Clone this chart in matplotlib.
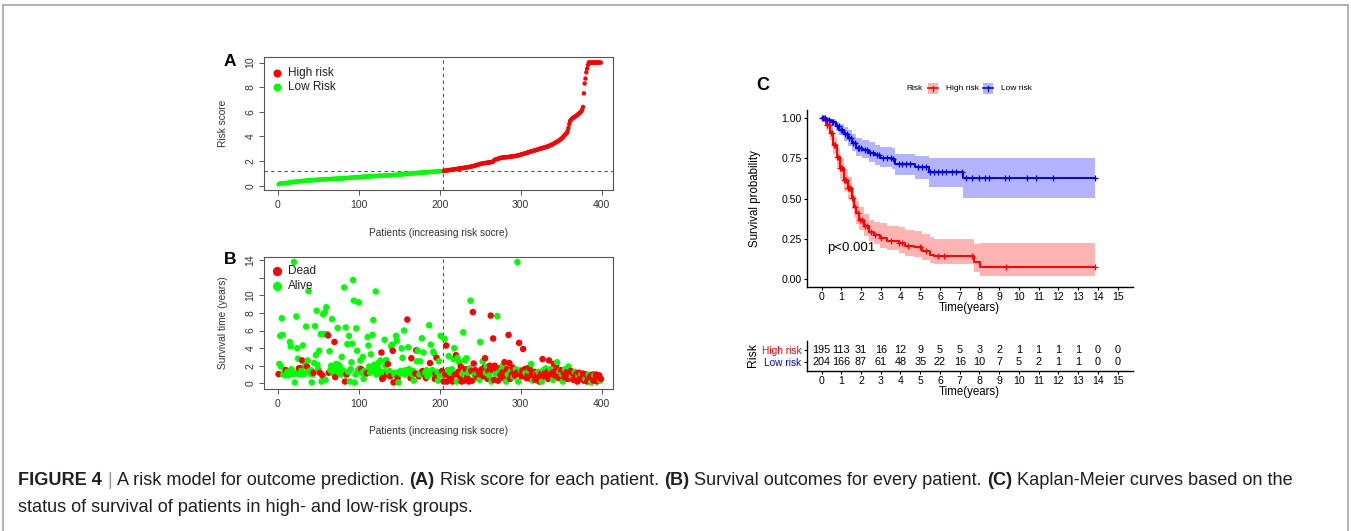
import matplotlib
matplotlib.use("Agg")
import matplotlib.pyplot as plt
import numpy as np
from matplotlib.patches import Rectangle
from matplotlib.lines import Line2D

plt.rcParams["font.family"] = ["Liberation Sans", "DejaVu Sans"]

W, H = 1351, 531

# ---------------- data ----------------
n_low = 204
cutoff = 1.2

risk_score = [
    0.12, 0.15, 0.17, 0.18, 0.19, 0.20, 0.20, 0.21, 0.21, 0.22,
    0.22, 0.23, 0.24, 0.25, 0.26, 0.27, 0.28, 0.29, 0.30, 0.31,
    0.32, 0.32, 0.33, 0.34, 0.35, 0.35, 0.36, 0.36, 0.37, 0.38,
    0.38, 0.39, 0.40, 0.40, 0.41, 0.41, 0.42, 0.42, 0.43, 0.43,
    0.44, 0.44, 0.45, 0.45, 0.46, 0.46, 0.47, 0.47, 0.48, 0.48,
    0.49, 0.49, 0.50, 0.50, 0.51, 0.51, 0.52, 0.52, 0.52, 0.53,
    0.53, 0.53, 0.54, 0.54, 0.54, 0.55, 0.55, 0.55, 0.56, 0.56,
    0.56, 0.57, 0.57, 0.57, 0.58, 0.58, 0.58, 0.59, 0.59, 0.60,
    0.60, 0.61, 0.61, 0.62, 0.62, 0.63, 0.63, 0.64, 0.64, 0.65,
    0.65, 0.66, 0.66, 0.67, 0.67, 0.68, 0.68, 0.69, 0.69, 0.70,
    0.70, 0.71, 0.71, 0.72, 0.72, 0.73, 0.73, 0.74, 0.74, 0.75,
    0.75, 0.75, 0.76, 0.76, 0.77, 0.77, 0.77, 0.78, 0.78, 0.79,
    0.79, 0.79, 0.80, 0.80, 0.80, 0.81, 0.81, 0.81, 0.82, 0.82,
    0.82, 0.83, 0.83, 0.83, 0.84, 0.84, 0.84, 0.85, 0.85, 0.86,
    0.86, 0.86, 0.87, 0.87, 0.88, 0.88, 0.89, 0.89, 0.90, 0.90,
    0.91, 0.91, 0.92, 0.92, 0.93, 0.94, 0.94, 0.95, 0.95, 0.96,
    0.97, 0.97, 0.98, 0.99, 0.99, 1.00, 1.00, 1.01, 1.02, 1.02,
    1.03, 1.03, 1.04, 1.04, 1.05, 1.05, 1.06, 1.06, 1.07, 1.07,
    1.08, 1.08, 1.09, 1.09, 1.10, 1.10, 1.11, 1.11, 1.12, 1.12,
    1.13, 1.13, 1.14, 1.14, 1.15, 1.15, 1.16, 1.16, 1.17, 1.17,
    1.18, 1.18, 1.19, 1.19,
    1.20, 1.21, 1.22, 1.23, 1.24, 1.25, 1.26, 1.27, 1.28, 1.29,
    1.30, 1.31, 1.32, 1.33, 1.34, 1.35, 1.36, 1.37, 1.38, 1.39,
    1.40, 1.41, 1.42, 1.43, 1.44, 1.45, 1.46, 1.47, 1.48, 1.49,
    1.50, 1.51, 1.53, 1.54, 1.56, 1.57, 1.59, 1.60, 1.62, 1.64,
    1.66, 1.68, 1.70, 1.72, 1.74, 1.76, 1.78, 1.80, 1.81, 1.82,
    1.83, 1.84, 1.85, 1.86, 1.87, 1.88, 1.89, 1.90, 1.91, 1.92,
    1.93, 1.95, 2.05, 2.10, 2.12, 2.15, 2.17, 2.19, 2.21, 2.23,
    2.25, 2.27, 2.28, 2.29, 2.30, 2.30, 2.31, 2.31, 2.32, 2.32,
    2.33, 2.34, 2.35, 2.36, 2.37, 2.38, 2.39, 2.40, 2.41, 2.42,
    2.43, 2.44, 2.46, 2.48, 2.50, 2.52, 2.54, 2.56, 2.58, 2.60,
    2.62, 2.64, 2.66, 2.68, 2.70, 2.72, 2.74, 2.76, 2.78, 2.80,
    2.82, 2.84, 2.86, 2.88, 2.90, 2.92, 2.94, 2.96, 2.98, 3.00,
    3.02, 3.04, 3.06, 3.08, 3.10, 3.12, 3.14, 3.16, 3.18, 3.20,
    3.23, 3.26, 3.29, 3.32, 3.35, 3.38, 3.42, 3.46, 3.50, 3.54,
    3.58, 3.62, 3.66, 3.70, 3.75, 3.80, 3.86, 3.92, 4.00, 4.08,
    4.16, 4.22, 4.28, 4.45, 4.70, 5.00, 5.25, 5.35, 5.42, 5.48,
    5.52, 5.56, 5.60, 5.65, 5.70, 5.75, 5.80, 5.86, 5.92, 5.98,
    6.05, 6.20, 6.40, 7.50, 8.30, 8.70, 9.20, 9.50, 9.80, 10.0,
    10.0, 10.0, 10.0, 10.0, 10.0, 10.0, 10.0, 10.0, 10.0, 10.0,
    10.0, 10.0, 10.0, 10.0, 10.0,
]

surv_time = [
    1.05, 2.2, 5.4, 1.9, 7.4, 5.5, 1.0, 1.2, 0.9, 1.5,
    1.0, 1.3, 0.9, 1.1, 4.7, 4.2, 1.6, 1.0, 1.2, 13.8,
    0.1, 1.1, 7.6, 4.0, 2.8, 1.7, 1.0, 1.7, 1.4, 2.6,
    4.3, 1.0, 1.2, 2.0, 6.45, 1.9, 2.6, 10.5, 1.4, 1.1,
    1.5, 0.1, 1.0, 1.2, 2.3, 6.5, 3.2, 8.25, 2.1, 1.6,
    3.7, 1.2, 5.6, 0.2, 0.9, 7.85, 5.6, 8.07, 0.4, 8.65,
    5.6, 5.45, 1.2, 3.65, 1.5, 2.0, 7.3, 1.6, 1.1, 4.7,
    0.7, 2.2, 1.4, 6.3, 2.1, 1.2, 1.9, 1.0, 3.0, 1.5,
    1.3, 10.9, 0.2, 6.35, 1.0, 4.45, 1.3, 5.4, 0.2, 1.6,
    2.4, 4.5, 11.75, 9.4, 0.1, 1.0, 6.25, 3.7, 1.5, 9.2,
    1.7, 2.6, 1.6, 1.2, 3.0, 0.5, 1.4, 1.0, 1.3, 1.15,
    5.25, 4.3, 1.9, 1.2, 3.3, 1.6, 5.5, 7.2, 2.1, 1.3,
    10.45, 1.0, 1.8, 2.3, 1.5, 1.1, 2.6, 3.5, 0.5, 0.6,
    1.3, 4.95, 2.0, 2.65, 1.0, 2.2, 1.2, 1.4, 0.8, 4.2,
    4.4, 3.7, 0.1, 1.0, 1.2, 5.4, 4.85, 0.6, 0.1, 1.3,
    1.1, 1.4, 3.98, 2.9, 1.2, 6.0, 1.0, 1.5, 1.3, 7.25,
    4.1, 1.6, 1.2, 0.6, 2.85, 1.0, 1.4, 0.3, 1.2, 1.1,
    3.75, 2.5, 3.7, 0.8, 1.0, 2.5, 1.3, 5.12, 1.4, 3.5,
    1.0, 1.2, 0.6, 1.5, 0.8, 1.3, 6.6, 2.3, 4.4, 1.1,
    1.5, 3.6, 3.4, 0.5, 1.1, 2.9, 1.3, 0.3, 2.5, 1.0,
    5.4, 1.2, 1.4, 0.9,
    0.2, 5.05, 1.0, 4.3, 0.2, 1.5, 3.1, 0.8, 1.2, 0.5,
    1.6, 0.2, 2.75, 4.0, 1.0, 3.2, 0.2, 2.9, 1.3, 2.4,
    0.8, 1.9, 0.2, 1.1, 5.8, 0.3, 2.6, 1.6, 2.85, 0.7,
    1.2, 0.2, 1.7, 9.4, 1.4, 0.3, 8.1, 2.25, 1.0, 1.5,
    0.9, 1.1, 0.6, 1.3, 0.4, 4.7, 1.0, 1.6, 2.5, 0.8,
    1.8, 2.85, 1.2, 1.9, 0.5, 1.4, 0.9, 2.0, 7.7, 0.2,
    1.5, 5.1, 0.4, 2.0, 1.1, 1.7, 7.65, 0.3, 1.3, 1.7,
    0.9, 1.5, 1.2, 2.0, 0.6, 2.4, 1.1, 0.2, 1.6, 1.0,
    5.5, 2.3, 0.5, 1.4, 1.0, 1.8, 0.7, 1.3, 0.9, 1.6,
    1.2, 13.8, 0.2, 4.6, 1.1, 1.5, 0.8, 1.4, 3.9, 1.0,
    1.6, 1.2, 0.6, 1.7, 1.0, 1.4, 1.7, 0.5, 2.2, 1.2,
    0.3, 0.9, 1.3, 0.4, 1.1, 1.0, 0.7, 1.3, 0.2, 0.6,
    1.1, 0.2, 2.75, 1.5, 0.8, 1.2, 1.7, 0.9, 1.3, 0.5,
    2.6, 1.0, 1.6, 0.7, 1.2, 0.4, 2.2, 0.9, 1.4, 2.0,
    2.4, 1.1, 0.6, 1.3, 0.8, 1.5, 1.0, 0.2, 1.2, 0.7,
    1.6, 0.9, 1.3, 0.5, 1.9, 1.1, 0.6, 1.4, 0.8, 1.2,
    0.4, 1.0, 1.3, 0.7, 1.1, 0.2, 0.9, 1.2, 0.5, 0.8,
    1.0, 0.6, 1.1, 0.3, 0.9, 0.5, 1.0, 0.2, 0.7, 1.0,
    0.4, 0.8, 0.1, 0.6, 1.0, 0.3, 0.9, 0.5, 1.0, 0.2,
    0.8, 0.6, 0.9, 0.3, 0.5,
]

# 1 = dead, 0 = alive
status = [
    1, 0, 0, 0, 0, 0, 0, 0, 0, 1,
    0, 0, 0, 0, 0, 0, 0, 0, 0, 0,
    0, 0, 0, 0, 0, 1, 0, 1, 0, 1,
    0, 0, 0, 0, 0, 1, 0, 0, 0, 0,
    0, 0, 0, 1, 0, 0, 0, 0, 0, 0,
    0, 1, 0, 0, 1, 0, 0, 0, 0, 0,
    0, 1, 1, 0, 0, 0, 0, 0, 0, 1,
    1, 0, 0, 0, 0, 0, 0, 0, 0, 0,
    0, 0, 1, 0, 1, 0, 0, 0, 0, 0,
    0, 0, 0, 0, 0, 0, 0, 0, 0, 0,
    0, 0, 1, 0, 0, 0, 0, 0, 0, 1,
    0, 0, 0, 0, 0, 0, 0, 0, 0, 0,
    0, 0, 0, 0, 0, 0, 0, 1, 1, 1,
    0, 0, 0, 0, 1, 1, 0, 0, 1, 0,
    0, 1, 1, 0, 0, 0, 0, 1, 0, 0,
    0, 0, 0, 0, 0, 0, 0, 0, 0, 1,
    0, 0, 0, 1, 1, 0, 0, 0, 0, 1,
    1, 0, 0, 1, 0, 0, 0, 0, 1, 0,
    1, 0, 1, 0, 0, 0, 0, 1, 0, 0,
    0, 0, 0, 1, 1, 1, 0, 0, 0, 0,
    0, 0, 1, 0,
    1, 0, 1, 1, 1, 0, 0, 1, 0, 1,
    0, 1, 0, 0, 1, 1, 0, 0, 1, 0,
    1, 1, 1, 0, 0, 1, 0, 1, 0, 1,
    0, 1, 0, 0, 1, 1, 1, 1, 0, 1,
    1, 0, 1, 1, 0, 0, 1, 1, 0, 1,
    1, 1, 0, 0, 1, 1, 0, 1, 1, 0,
    1, 1, 1, 1, 0, 1, 0, 1, 0, 1,
    1, 0, 1, 0, 1, 1, 1, 0, 1, 0,
    1, 1, 1, 0, 1, 1, 0, 1, 1, 0,
    1, 0, 0, 1, 1, 0, 1, 1, 1, 1,
    1, 0, 1, 1, 1, 0, 1, 1, 0, 1,
    0, 1, 1, 1, 0, 1, 1, 0, 1, 1,
    1, 0, 1, 0, 1, 1, 0, 1, 1, 1,
    1, 1, 0, 1, 1, 0, 1, 1, 1, 1,
    0, 1, 1, 0, 1, 1, 0, 0, 1, 1,
    0, 1, 1, 1, 0, 1, 1, 1, 0, 1,
    1, 1, 0, 1, 1, 1, 0, 1, 1, 1,
    0, 1, 1, 1, 1, 0, 1, 1, 1, 0,
    1, 1, 0, 1, 1, 1, 0, 1, 1, 1,
    1, 1, 1, 0, 1,
]

# Kaplan-Meier, high risk group
hi_t = [0, 0.25, 0.42, 0.59, 0.76, 0.93, 1.13, 1.33, 1.52, 1.63, 1.77, 1.89,
        2.14, 2.39, 2.64, 2.98, 3.32, 3.9, 4.25, 4.67, 5.1, 5.5, 5.7, 7.7, 8.05, 13.85]
hi_s = [1.0, 0.958, 0.907, 0.834, 0.758, 0.689, 0.616, 0.564, 0.502, 0.45, 0.41, 0.37,
        0.33, 0.295, 0.275, 0.254, 0.237, 0.225, 0.204, 0.198, 0.173, 0.152, 0.145, 0.104, 0.073, 0.073]
hi_up = [1.0, 0.985, 0.95, 0.885, 0.815, 0.75, 0.685, 0.635, 0.575, 0.525, 0.485, 0.445,
         0.405, 0.37, 0.355, 0.35, 0.33, 0.325, 0.305, 0.30, 0.28, 0.26, 0.25, 0.215, 0.222, 0.222]
hi_lo = [1.0, 0.93, 0.865, 0.78, 0.70, 0.625, 0.55, 0.50, 0.435, 0.385, 0.345, 0.305,
         0.27, 0.235, 0.215, 0.195, 0.18, 0.16, 0.14, 0.135, 0.115, 0.10, 0.092, 0.045, 0.02, 0.02]
hi_cens = [0.15, 0.3, 0.38, 0.5, 0.55, 0.65, 0.7, 0.8, 0.85, 0.95, 1.0, 1.05, 1.15, 1.2,
           1.25, 1.35, 1.4, 1.45, 1.55, 1.6, 1.7, 1.85, 1.95, 2.05, 2.2, 2.3, 2.5, 2.7,
           3.0, 3.5, 3.9, 4.1, 4.4, 5.0, 5.3, 5.9, 6.2, 7.6, 9.35, 13.85]

# Kaplan-Meier, low risk group
lo_t = [0, 0.25, 0.46, 0.71, 0.91, 1.13, 1.33, 1.55, 1.77, 2.05, 2.39, 2.73, 2.98,
        3.57, 3.74, 4.75, 5.42, 7.16, 13.85]
lo_s = [1.0, 0.99, 0.975, 0.95, 0.93, 0.90, 0.875, 0.845, 0.818, 0.804, 0.787, 0.77,
        0.756, 0.746, 0.715, 0.698, 0.669, 0.627, 0.627]
lo_up = [1.0, 1.0, 0.995, 0.98, 0.965, 0.945, 0.925, 0.90, 0.875, 0.865, 0.85, 0.835,
         0.82, 0.815, 0.78, 0.765, 0.755, 0.755, 0.755]
lo_lo = [1.0, 0.975, 0.955, 0.92, 0.895, 0.86, 0.83, 0.795, 0.765, 0.75, 0.73, 0.71,
         0.695, 0.685, 0.645, 0.625, 0.575, 0.505, 0.505]
lo_cens = [0.05, 0.1, 0.2, 0.3, 0.4, 0.55, 0.6, 0.8, 0.9, 1.0, 1.05, 1.2, 1.3, 1.4, 1.5,
           1.6, 1.7, 1.85, 1.9, 2.0, 2.2, 2.3, 2.45, 2.6, 2.8, 2.9, 3.1, 3.3, 3.5, 3.6,
           3.9, 4.1, 4.3, 4.5, 4.9, 5.1, 5.3, 5.5, 5.7, 5.9, 6.1, 6.3, 6.6, 6.8, 7.1,
           7.3, 7.6, 8.0, 8.3, 8.5, 9.3, 9.5, 10.4, 10.87, 11.7, 13.85]

table_times = list(range(16))
at_risk_high = [195, 113, 31, 16, 12, 9, 5, 5, 3, 2, 1, 1, 1, 1, 0, 0]
at_risk_low = [204, 166, 87, 61, 48, 35, 22, 16, 10, 7, 5, 2, 1, 1, 0, 0]

RED, GREEN, BLUE = "#ff0000", "#00ff00", "#0000ff"


def fx(x):
    return x / W


def fy(y):
    return 1 - y / H


def box(l, t, r, b):
    return [fx(l), fy(b), (r - l) / W, (b - t) / H]


fig = plt.figure(figsize=(W / 100, H / 100), dpi=100)

# outer frame
fr = dict(color="#a6a6a6", lw=1.2, transform=fig.transFigure)
fig.add_artist(Line2D([fx(3), fx(3)], [fy(4.5), 0], **fr))
fig.add_artist(Line2D([fx(3), fx(1348)], [fy(4.5), fy(4.5)], **fr))
fig.add_artist(Line2D([fx(1348), fx(1348)], [fy(4.5), 0], **fr))


def r_style(ax):
    for s in ax.spines.values():
        s.set_color("#555555")
        s.set_linewidth(0.8)
    ax.tick_params(axis="both", direction="out", length=3.5, width=0.7,
                   color="#555555", labelsize=7.5, labelcolor="#333333")
    ax.tick_params(axis="x", pad=3.5)
    ax.tick_params(axis="y", pad=2.5)
    for lab in ax.get_yticklabels():
        lab.set_rotation(90)
        lab.set_va("center")


pat = np.arange(1, len(risk_score) + 1)
rs = np.array(risk_score)
grp_high = pat > n_low

# ---------- panel A ----------
axA = fig.add_axes(box(264, 57, 613, 190))
axA.scatter(pat, rs, s=10, c=np.where(grp_high, RED, GREEN), lw=0, zorder=3)
axA.axhline(cutoff, ls=(0, (3, 3)), color="#555555", lw=0.8)
axA.axvline(n_low + 0.5, ls=(0, (3, 3)), color="#555555", lw=0.8)
axA.set_xlim(-17, 414)
axA.set_ylim(-0.35, 10.45)
axA.set_xticks([0, 100, 200, 300, 400])
axA.set_yticks([0, 2, 4, 6, 8, 10])
r_style(axA)
axA.plot([0.036], [0.882], "o", color=RED, ms=4.8, transform=axA.transAxes)
axA.plot([0.036], [0.772], "o", color=GREEN, ms=4.8, transform=axA.transAxes)
axA.text(0.068, 0.882, "High risk", transform=axA.transAxes, va="center", fontsize=8.5, color="#222")
axA.text(0.068, 0.772, "Low Risk", transform=axA.transAxes, va="center", fontsize=8.5, color="#222")
fig.text(fx(438), fy(232.5), "Patients (increasing risk socre)", ha="center", va="center",
         fontsize=7.3, color="#333")
fig.text(fx(223), fy(123.5), "Risk score", ha="center", va="center", rotation=90,
         fontsize=7.3, color="#333")
fig.text(fx(230), fy(62), "A", ha="center", va="center", fontsize=12.5, fontweight="bold")

# ---------- panel B ----------
st = np.array(status)
axB = fig.add_axes(box(264, 256.7, 613, 389))
axB.scatter(pat, surv_time, s=22, c=np.where(st == 1, RED, GREEN), lw=0, zorder=3)
axB.axvline(n_low + 0.5, ls=(0, (3, 3)), color="#555555", lw=0.8)
axB.set_xlim(-17, 414)
axB.set_ylim(-0.65, 14.4)
axB.set_xticks([0, 100, 200, 300, 400])
axB.set_yticks([0, 2, 4, 6, 8, 10, 12, 14])
axB.set_yticklabels(["0", "2", "4", "6", "8", "10", "", "14"])
r_style(axB)
axB.plot([0.036], [0.892], "o", color=RED, ms=5.6, transform=axB.transAxes)
axB.plot([0.036], [0.781], "o", color=GREEN, ms=5.6, transform=axB.transAxes)
axB.text(0.068, 0.892, "Dead", transform=axB.transAxes, va="center", fontsize=8.5, color="#222")
axB.text(0.068, 0.781, "Alive", transform=axB.transAxes, va="center", fontsize=8.5, color="#222")
fig.text(fx(438), fy(431.5), "Patients (increasing risk socre)", ha="center", va="center",
         fontsize=7.3, color="#333")
fig.text(fx(223), fy(323), "Survival time (years)", ha="center", va="center", rotation=90,
         fontsize=7.3, color="#333")
fig.text(fx(230), fy(259), "B", ha="center", va="center", fontsize=12.5, fontweight="bold")

# ---------- panel C ----------
axC = fig.add_axes(box(806.7, 110.3, 1132.5, 287))
for t, s, up, lo, cen, col, band in [
    (hi_t, hi_s, hi_up, hi_lo, hi_cens, RED, "#ffb3b3"),
    (lo_t, lo_s, lo_up, lo_lo, lo_cens, BLUE, "#b3b3ff"),
]:
    axC.fill_between(t, lo, up, step="post", color=band, lw=0, zorder=1)
    axC.step(t, s, where="post", color=col, lw=1.4, zorder=3)
    idx = np.searchsorted(t, cen, side="right") - 1
    axC.plot(cen, np.array(s)[idx], "+", color=col, ms=5, mew=0.9, zorder=4)
axC.set_xlim(-0.75, 15.75)
axC.set_ylim(-0.05, 1.05)
axC.set_xticks(range(16))
axC.set_yticks([0, 0.25, 0.5, 0.75, 1.0])
axC.set_yticklabels(["0.00", "0.25", "0.50", "0.75", "1.00"])
for s in ["top", "right"]:
    axC.spines[s].set_visible(False)
for s in ["left", "bottom"]:
    axC.spines[s].set_linewidth(1.0)
axC.tick_params(direction="out", length=2.5, width=0.8, labelsize=7.6, pad=1.2, colors="black")
axC.text(0.3, 0.19, "p<0.001", fontsize=9.5, va="center", ha="left")
fig.text(fx(969), fy(308), "Time(years)", ha="center", va="center", fontsize=8.3)
fig.text(fx(755), fy(198.5), "Survival probability", ha="center", va="center",
         rotation=90, fontsize=8.3)
fig.text(fx(762.5), fy(85), "C", ha="center", va="center", fontsize=13, fontweight="bold")

# legend for C
fig.text(fx(914.5), fy(88.3), "Risk", ha="center", va="center", fontsize=6)
for cx, col, band, lab in [(932.5, RED, "#ffb3b3", "High risk"), (987.7, BLUE, "#b3b3ff", "Low risk")]:
    fig.add_artist(Rectangle((fx(cx - 5), fy(94)), 10 / W, 11.5 / H, color=band,
                             transform=fig.transFigure, lw=0))
    fig.add_artist(Line2D([fx(cx - 5), fx(cx + 5)], [fy(88.3), fy(88.3)], color=col, lw=1.2,
                          transform=fig.transFigure))
    fig.add_artist(Line2D([fx(cx), fx(cx)], [fy(85.5), fy(91)], color=col, lw=0.9,
                          transform=fig.transFigure))
    fig.text(fx(cx + 13), fy(88.3), lab, ha="left", va="center", fontsize=6)

# ---------- risk table ----------
axT = fig.add_axes(box(806.7, 341, 1132.5, 370.7))
axT.set_xlim(-0.75, 15.75)
axT.set_ylim(0.32, 2.73)
for t, a, b in zip(table_times, at_risk_high, at_risk_low):
    axT.text(t, 2, str(a), ha="center", va="center", fontsize=7.8)
    axT.text(t, 1, str(b), ha="center", va="center", fontsize=7.8)
axT.set_xticks(table_times)
axT.set_yticks([1, 2])
axT.set_yticklabels(["Low risk", "High risk"])
for lab, col in zip(axT.get_yticklabels(), [BLUE, RED]):
    lab.set_color(col)
for s in ["top", "right"]:
    axT.spines[s].set_visible(False)
for s in ["left", "bottom"]:
    axT.spines[s].set_linewidth(1.0)
axT.tick_params(direction="out", length=2.5, width=0.8, labelsize=7.6, pad=1.2)
axT.tick_params(axis="y", labelsize=7.3)
fig.text(fx(969), fy(392.5), "Time(years)", ha="center", va="center", fontsize=8.3)
fig.text(fx(753), fy(355), "Risk", ha="center", va="center", rotation=90, fontsize=8.8)

# ---------- caption ----------
renderer = fig.canvas.get_renderer()
cap_kw = dict(fontsize=13.1, va="baseline", ha="left", color="#231f20")


def measure(s, bold):
    t = fig.text(0, 0, s, fontweight="bold" if bold else "normal", **cap_kw)
    w = t.get_window_extent(renderer).width
    t.remove()
    return w


space_w = measure("a a", False) - measure("aa", False)
line1 = [("FIGURE 4", True), ("|", False), ("A risk model for outcome prediction.", False),
         ("(A)", True), ("Risk score for each patient.", False), ("(B)", True),
         ("Survival outcomes for every patient.", False), ("(C)", True),
         ("Kaplan-Meier curves based on the", False)]
x = 18.5
for txt, bold in line1:
    col = "#9a9a9a" if txt == "|" else "#231f20"
    kw = dict(cap_kw)
    kw["color"] = col
    fig.text(fx(x), fy(485), txt, fontweight="bold" if bold else "normal", **kw)
    x += measure(txt, bold) + space_w
fig.text(fx(18.5), fy(511.7), "status of survival of patients in high- and low-risk groups.", **cap_kw)

fig.savefig("out.png", dpi=100)
